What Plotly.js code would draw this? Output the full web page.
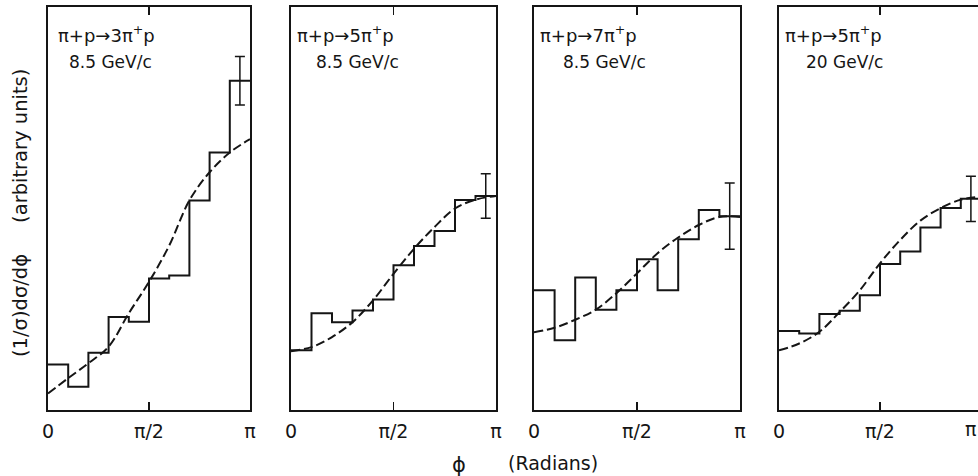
<!DOCTYPE html>
<html>
<head>
<meta charset="utf-8">
<script src="https://cdn.plot.ly/plotly-3.0.1.min.js"></script>
<style>
html,body{margin:0;padding:0;background:#fff;overflow:hidden;}
#chart{width:978px;height:476px;}
</style>
</head>
<body>
<div id="chart"></div>
<script>
// ---- data (arbitrary units) ----
const binEdgesInPi = [0, 0.1, 0.2, 0.3, 0.4, 0.5, 0.6, 0.7, 0.8, 0.9, 1.0];
const fitPointsInPi = [0, 0.1, 0.2, 0.3, 0.4, 0.5, 0.6, 0.7, 0.8, 0.9, 1.0];

const panelTitles = ["π+p→3π<sup>+</sup>p", "π+p→5π<sup>+</sup>p", "π+p→7π<sup>+</sup>p", "π+p→5π<sup>+</sup>p"];
const panelMomenta = ["8.5 GeV/c", "8.5 GeV/c", "8.5 GeV/c", "20 GeV/c"];

const hist3pi85 = [11.3, 5.8, 14.2, 23.1, 21.9, 32.6, 33.4, 52.0, 63.9, 81.7];
const hist5pi85 = [14.8, 24.0, 21.8, 24.7, 27.4, 35.9, 40.7, 44.4, 52.1, 53.1];
const hist7pi85 = [29.7, 17.3, 32.9, 24.9, 29.7, 37.4, 29.7, 42.4, 49.6, 48.1];
const hist5pi20 = [19.6, 19.0, 23.8, 24.6, 28.5, 36.2, 39.3, 45.3, 50.1, 52.4];

const fit3pi85 = [4.1, 7.9, 11.6, 15.7, 24.0, 31.8, 40.8, 52.0, 59.0, 63.9, 67.2];
const fit5pi85 = [14.6, 15.6, 18.1, 21.8, 27.2, 33.8, 40.0, 45.4, 50.0, 52.2, 53.1];
const fit7pi85 = [19.3, 20.4, 22.4, 24.9, 29.0, 33.9, 38.9, 42.8, 45.9, 47.9, 47.9];
const fit5pi20 = [14.8, 16.5, 19.4, 24.3, 29.7, 36.4, 42.2, 47.0, 50.1, 52.2, 52.9];

const lastBinErrors = [6.0, 5.5, 8.2, 5.6];

const tickVals = [0, Math.PI / 2, Math.PI];
const tickText = ["0", "π/2", "π"];

// ---- layout geometry ----
const W = 978, H = 476;
const xDomains = [[48, 250], [291, 496], [534, 740], [779, 978]];
const yTop = 7, yBottom = 410;
const FONT = "DejaVu Sans, Liberation Sans, Arial, sans-serif";
const INK = "#151515";

const hists = [hist3pi85, hist5pi85, hist7pi85, hist5pi20];
const fits = [fit3pi85, fit5pi85, fit7pi85, fit5pi20];

const traces = [];
const layout = {
  width: W, height: H,
  margin: {l: 0, r: 0, t: 0, b: 0},
  paper_bgcolor: "#fff", plot_bgcolor: "#fff",
  showlegend: false,
  font: {family: FONT, color: INK},
  annotations: []
};

const edges = binEdgesInPi.map(v => v * Math.PI);
const fitX = fitPointsInPi.map(v => v * Math.PI);

hists.forEach((h, i) => {
  const n = i + 1;
  const xa = "x" + (n === 1 ? "" : n);
  const ya = "y" + (n === 1 ? "" : n);
  // histogram steps
  traces.push({
    x: edges, y: h.concat([h[h.length - 1]]),
    xaxis: xa, yaxis: ya, type: "scatter", mode: "lines",
    line: {shape: "hv", color: INK, width: 2},
    hoverinfo: "skip"
  });
  // dashed fit curve
  traces.push({
    x: fitX, y: fits[i],
    xaxis: xa, yaxis: ya, type: "scatter", mode: "lines",
    line: {shape: "spline", smoothing: 1, color: INK, width: 2, dash: "9px,4px"},
    hoverinfo: "skip"
  });
  // error bar on last bin
  const lastCenter = (edges[edges.length - 2] + edges[edges.length - 1]) / 2;
  traces.push({
    x: [lastCenter], y: [h[h.length - 1]],
    xaxis: xa, yaxis: ya, type: "scatter", mode: "markers",
    marker: {size: 1, color: "rgba(0,0,0,0)"},
    error_y: {type: "data", array: [lastBinErrors[i]], visible: true, color: INK, thickness: 1.5, width: 5},
    hoverinfo: "skip"
  });

  const d = xDomains[i];
  const pxPerPi = (i === 3) ? 2 * (880 - 779) : (d[1] - d[0]);
  const xMax = (d[1] - d[0]) / pxPerPi * Math.PI;
  const xKey = "xaxis" + (n === 1 ? "" : n);
  const yKey = "yaxis" + (n === 1 ? "" : n);
  layout[xKey] = {
    domain: [d[0] / W, d[1] / W],
    anchor: ya,
    range: [0, xMax],
    showgrid: false, zeroline: false,
    showline: true, linecolor: INK, linewidth: 2, mirror: "ticks",
    ticks: "inside", ticklen: 8, tickwidth: 1.5, tickcolor: INK,
    tickmode: "array", tickvals: tickVals, ticktext: tickText,
    tickfont: {family: FONT, size: 19, color: INK},
    ticklabelstandoff: 3,
    fixedrange: true
  };
  layout[yKey] = {
    domain: [1 - yBottom / H, 1 - yTop / H],
    anchor: xa,
    range: [0, 100],
    showgrid: false, zeroline: false,
    showline: true, linecolor: INK, linewidth: 2, mirror: (i === 3) ? false : true,
    ticks: "", showticklabels: false,
    fixedrange: true
  };
  // panel labels
  const titleLeft = [56, 295, 538, 783][i];
  const momLeft = [67, 314, 561, 804][i];
  layout.annotations.push({
    xref: "paper", yref: "paper", x: titleLeft / W, y: 1 - 34 / H,
    xanchor: "left", yanchor: "middle", showarrow: false,
    text: panelTitles[i], font: {family: FONT, size: 18, color: INK}
  });
  layout.annotations.push({
    xref: "paper", yref: "paper", x: momLeft / W, y: 1 - 62 / H,
    xanchor: "left", yanchor: "middle", showarrow: false,
    text: panelMomenta[i], font: {family: FONT, size: 17, color: INK}
  });
});

// π tick label of the last panel (its π position lies at the right edge of the figure)
layout.annotations.push({
  xref: "paper", yref: "paper", x: 1, y: 1 - 429 / H,
  xanchor: "right", yanchor: "middle", showarrow: false,
  text: "π", font: {family: FONT, size: 19, color: INK}
});

// axis titles
layout.annotations.push({
  xref: "paper", yref: "paper", x: 21 / W, y: 1 - 213 / H,
  xanchor: "center", yanchor: "middle", showarrow: false, textangle: -90,
  text: "(1/σ)dσ/dϕ&nbsp;&nbsp;&nbsp;&nbsp;&nbsp;(arbitrary units)",
  font: {family: FONT, size: 19.5, color: INK}
});
layout.annotations.push({
  xref: "paper", yref: "paper", x: 459 / W, y: 1 - 465 / H,
  xanchor: "center", yanchor: "middle", showarrow: false,
  text: "ϕ", font: {family: FONT, size: 21, color: INK}
});
layout.annotations.push({
  xref: "paper", yref: "paper", x: 506 / W, y: 1 - 463 / H,
  xanchor: "left", yanchor: "middle", showarrow: false,
  text: "(Radians)", font: {family: FONT, size: 19, color: INK}
});

Plotly.newPlot("chart", traces, layout, {staticPlot: true, displayModeBar: false});
</script>
</body>
</html>
